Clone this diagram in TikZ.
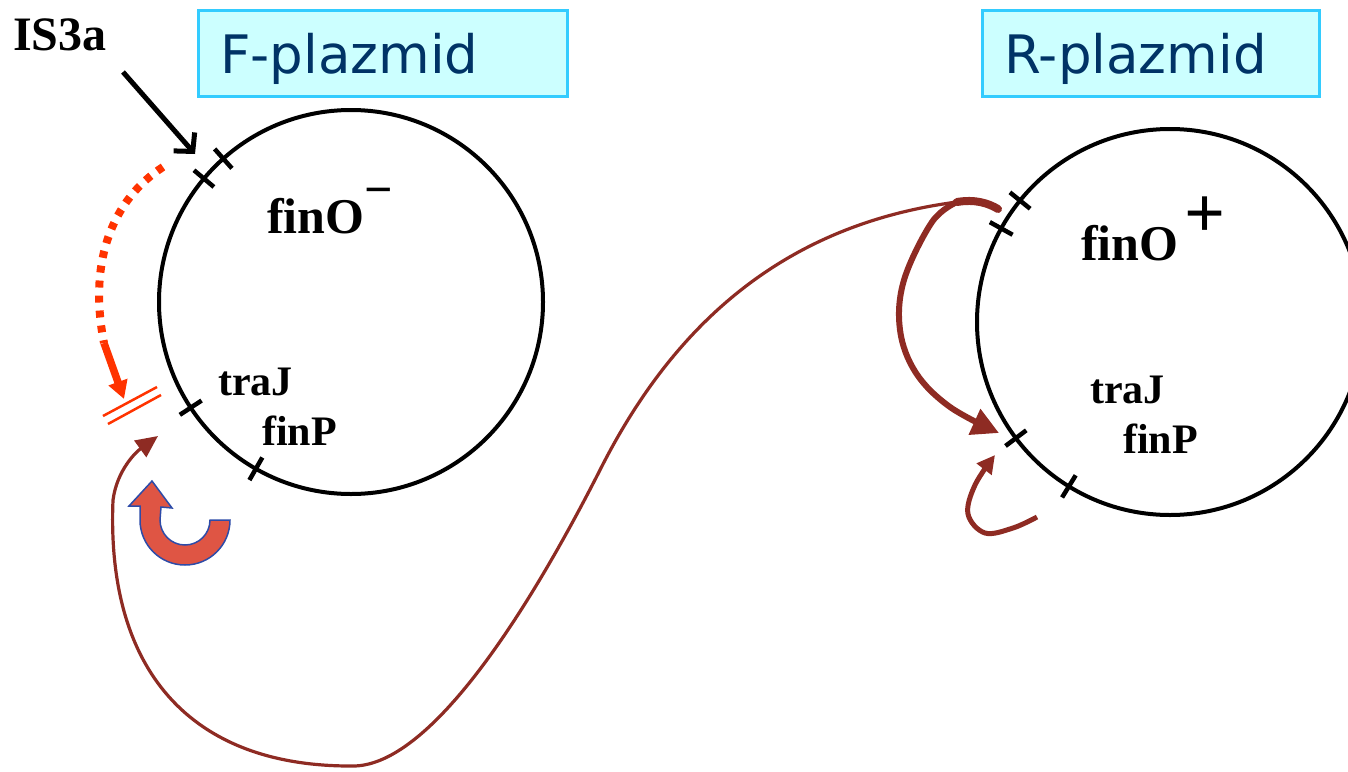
\documentclass[tikz,border=0pt]{standalone}
\usepackage{fontspec}
\setmainfont{Liberation Serif}
\newfontfamily\boxfont{DejaVu Sans}
\usetikzlibrary{arrows.meta,calc}
\definecolor{boxfill}{HTML}{CCFFFF}
\definecolor{boxline}{HTML}{33CCFF}
\definecolor{boxtext}{HTML}{003366}
\definecolor{redor}{HTML}{FF3300}
\definecolor{brn}{HTML}{8E2B23}
\definecolor{ufill}{HTML}{DF5544}
\definecolor{uline}{HTML}{2D4BA8}
\begin{document}
\begin{tikzpicture}[x=1pt,y=-1pt,
  titlebox/.style={draw=boxline, fill=boxfill, line width=2.5pt, text=boxtext,
    font=\boxfont\fontsize{53}{60}\selectfont, minimum height=86pt,
    inner xsep=22pt, inner ysep=0pt, align=left, text height=40pt, text depth=0pt},
  plasmid/.style={circle, draw=black, line width=4pt, inner sep=0pt, outer sep=0pt},
  tickmark/.style={draw=black, line width=4.5pt},
  lblbig/.style={font=\bfseries\fontsize{50}{55}\selectfont, inner sep=0pt, anchor=base west},
  lblsmall/.style={font=\bfseries\fontsize{42}{46}\selectfont, inner sep=0pt, anchor=base west},
  brownthin/.style={draw=brn, line width=3.2pt},
  brownthick/.style={draw=brn, line width=6pt},
]
\useasboundingbox (0,0) rectangle (1348,771);
\clip (0,0) rectangle (1348,771);

% title boxes
\node[titlebox, minimum width=369pt, text width=325pt, anchor=north west] (Ft) at (197,9) {F-plazmid};
\node[titlebox, minimum width=337pt, text width=293pt, anchor=north west] (Rt) at (981,9) {R-plazmid};

% plasmids
\node[plasmid, minimum size=384pt] (Fc) at (351,302) {};
\node[plasmid, minimum size=386pt] (Rc) at (1170,322) {};

\foreach \a in {228.3,220,146.6,119.7}
  \draw[tickmark] ($(Fc.center)+(\a:179)$) -- ($(Fc.center)+(\a:205)$);
\foreach \a in {219,209,143,121.6}
  \draw[tickmark] ($(Rc.center)+(\a:180)$) -- ($(Rc.center)+(\a:206)$);

% labels
\node[font=\bfseries\fontsize{48}{52}\selectfont, inner sep=0pt, anchor=base west] (is3a) at (13,50) {IS3a};
\node[lblbig] (finOm) at (267,233) {finO\raisebox{27pt}{−}};
\node[lblsmall] (traJF) at (218,395) {traJ};
\node[lblsmall] (finPF) at (262,445) {finP};
\node[lblbig] (finOp) at (1081,260) {finO\hspace{6pt}\raisebox{23pt}{\fontsize{72}{72}\selectfont +}};
\node[lblsmall] (traJR) at (1090,403) {traJ};
\node[lblsmall] (finPR) at (1123,453) {finP};

% IS3a arrow
\coordinate (is3s) at (123,72);
\coordinate (is3e) at (195,154);
\draw[line width=5pt, -{Straight Barb[length=13pt,width=28pt,line width=5pt]}] (is3s) -- (is3e);

% red dotted arrow
\coordinate (Ds) at (163,167);
\coordinate (De) at (104,343);
\coordinate (Dt) at (124,399);
\draw[redor, line width=8pt, dash pattern=on 7pt off 8pt] (Ds) .. controls (112,200) and (88,262) .. (De);
\draw[redor, line width=7.5pt, -{Triangle[length=18pt,width=19pt]}] (De) -- (Dt);

% red double line
\draw[redor, line width=2.5pt] (103,416) -- (157,387);
\draw[redor, line width=2.5pt] (108,424) -- (161,395);

% red U-turn arrow
\draw[uline, line width=1.5pt, fill=ufill]
  (230,520) arc[start angle=0, end angle=180, radius=45]
  -- (140,506) -- (129,506) -- (152,481) -- (172,508) -- (161,507) -- (160,520)
  arc[start angle=180, end angle=0, radius=25] -- cycle;

% brown connectors
\coordinate (J) at (957,202);
\coordinate (Jtail) at (998,209);
\coordinate (Ltip) at (158,436);
\coordinate (Rtip) at (999,433);
\coordinate (Hs) at (1037,517);
\coordinate (Ht) at (995,455);
\coordinate (Ma) at (600,470);
\coordinate (Mb) at (353,766);
\coordinate (Mc) at (113,500);

\draw[brownthin, -{Triangle[length=22pt,width=20pt]}]
  (J) .. controls (789,224) and (676,319) .. (Ma)
      .. controls (514,639) and (423,766) .. (Mb)
      .. controls (190,767) and (106,670) .. (Mc)
      .. controls (117,470) and (136,452) .. (Ltip);
\draw[brownthick, -{Triangle[length=27pt,width=27pt]}] plot[smooth, tension=0.6] coordinates {
  (J) (932,222) (904,280) (900,330) (916,373) (950,407) (Rtip)};
\draw[brn, line width=8pt, line cap=round] (J) .. controls (975,199) and (988,203) .. (Jtail);
\draw[brn, line width=5pt, -{Triangle[length=18pt,width=18pt]}] plot[smooth, tension=0.6] coordinates {
  (Hs) (1013,528) (985,533) (968,514) (975,485) (Ht)};
\end{tikzpicture}
\end{document}
